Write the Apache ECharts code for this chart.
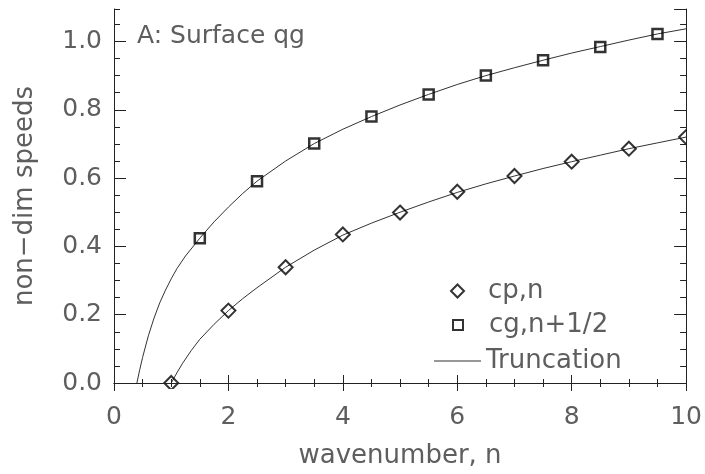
<!DOCTYPE html>
<html>
<head>
<meta charset="utf-8">
<script src="https://cdn.jsdelivr.net/npm/echarts@6/dist/echarts.min.js"></script>
<style>
  html, body { margin: 0; padding: 0; background: #fff; }
  #chart { width: 705px; height: 474px; }
</style>
</head>
<body>
<div id="chart"></div>
<script>
// ---- data ----
const cpN   = [1, 2, 3, 4, 5, 6, 7, 8, 9, 10];
const cpVal = [0.0, 0.212, 0.339, 0.435, 0.499, 0.560, 0.606, 0.648, 0.686, 0.720];

const cgN   = [1.5, 2.5, 3.5, 4.5, 5.5, 6.5, 7.5, 8.5, 9.5];
const cgVal = [0.424, 0.591, 0.701, 0.780, 0.845, 0.900, 0.945, 0.984, 1.022];

const truncUpperN   = [0.4, 0.45, 0.5, 0.6, 0.7, 0.8, 0.9, 1.0, 1.1, 1.25, 1.5, 1.75, 2.0, 2.25, 2.5, 3.0, 3.5, 4.0, 4.5, 5.0, 5.5, 6.0, 6.5, 7.0, 7.5, 8.0, 8.5, 9.0, 9.5, 10.0];
const truncUpperVal = [0.0, 0.039, 0.075, 0.138, 0.19, 0.235, 0.272, 0.305, 0.335, 0.372, 0.424, 0.472, 0.515, 0.555, 0.591, 0.650, 0.701, 0.743, 0.780, 0.814, 0.845, 0.874, 0.900, 0.923, 0.945, 0.966, 0.985, 1.004, 1.022, 1.037];

const truncLowerN   = [1.0, 1.1, 1.2, 1.35, 1.5, 1.75, 2.0, 2.25, 2.5, 3.0, 3.5, 4.0, 4.5, 5.0, 5.5, 6.0, 6.5, 7.0, 7.5, 8.0, 8.5, 9.0, 9.5, 10.0];
const truncLowerVal = [0.0, 0.03, 0.058, 0.095, 0.128, 0.172, 0.212, 0.247, 0.279, 0.339, 0.389, 0.433, 0.468, 0.500, 0.530, 0.558, 0.583, 0.606, 0.628, 0.648, 0.667, 0.686, 0.703, 0.720];

const xTickLabels = ['0', '2', '4', '6', '8', '10'];

const titleText = 'A: Surface qg';
const xName = 'wavenumber, n';
const yName = 'non\u2212dim speeds';
const nameCp = 'cp,n';
const nameCg = 'cg,n+1/2';
const nameTrunc = 'Truncation';

// ---- layout / style ----
const W = 705, H = 474;
const GRID = { left: 114, right: 18, top: 9, bottom: 85 };
const FONT = 'DejaVu Sans';
const TXT = '#5e5e5e';
const LINE = '#222';

const pair = (xs, ys) => xs.map((x, i) => [x, ys[i]]);

const chart = echarts.init(document.getElementById('chart'), null, { renderer: 'canvas' });

const xBase = {
  type: 'value', min: 0, max: 10, interval: 2, z: 10,
  axisLine: { show: true, lineStyle: { color: LINE, width: 1 } },
  axisTick: { show: true, inside: true, length: 8, lineStyle: { color: LINE } },
  minorTick: { show: true, splitNumber: 4, length: 4, lineStyle: { color: LINE } },
  splitLine: { show: false }, minorSplitLine: { show: false }
};
const yMajor = {
  type: 'value', min: 0, max: 1.095, interval: 0.2, z: 10,
  axisLine: { show: true, lineStyle: { color: LINE, width: 1 } },
  axisTick: { show: true, inside: true, length: 12, lineStyle: { color: LINE } },
  splitLine: { show: false }
};
const yMinor = {
  type: 'value', min: 0, max: 1.095, interval: 0.05, z: 10,
  axisLine: { show: false },
  axisTick: { show: true, inside: true, length: 6, lineStyle: { color: LINE } },
  axisLabel: { show: false },
  splitLine: { show: false }
};

const legendText = { fontFamily: FONT, fontSize: 26, color: TXT };

const option = {
  animation: false,
  backgroundColor: '#fff',
  title: {
    text: titleText, left: 132, top: 19,
    textStyle: { fontFamily: FONT, fontSize: 25, fontWeight: 'normal', color: TXT }
  },
  grid: { left: GRID.left, right: GRID.right, top: GRID.top, bottom: GRID.bottom, containLabel: false },
  xAxis: [
    Object.assign({}, xBase, {
      position: 'bottom',
      name: xName, nameLocation: 'middle', nameGap: 60,
      nameTextStyle: { fontFamily: FONT, fontSize: 26, color: TXT },
      axisLabel: {
        show: true, margin: 22, fontFamily: FONT, fontSize: 25, color: TXT,
        formatter: (v) => xTickLabels[Math.round(v / 2)]
      }
    }),
    Object.assign({}, xBase, { position: 'top', axisLabel: { show: false } })
  ],
  yAxis: [
    Object.assign({}, yMajor, {
      position: 'left',
      name: yName, nameLocation: 'middle', nameGap: 76, nameRotate: 90,
      nameTextStyle: { fontFamily: FONT, fontSize: 26, color: TXT },
      axisLabel: {
        show: true, margin: 12, fontFamily: FONT, fontSize: 25, color: TXT,
        showMaxLabel: false,
        formatter: (v) => v.toFixed(1)
      }
    }),
    Object.assign({}, yMinor, { position: 'left' }),
    Object.assign({}, yMajor, { position: 'right', axisLabel: { show: false } }),
    Object.assign({}, yMinor, { position: 'right' })
  ],
  legend: [
    {
      data: [{ name: nameCp, icon: 'diamond' }], orient: 'vertical', left: 445, top: 273, selectedMode: false,
      itemWidth: 13, itemHeight: 13, symbolKeepAspect: true,
      textStyle: Object.assign({ padding: [0, 0, 0, 19] }, legendText)
    },
    {
      data: [{ name: nameCg, icon: 'rect' }], orient: 'vertical', left: 447, top: 307, selectedMode: false,
      itemWidth: 10, itemHeight: 10, symbolKeepAspect: true,
      textStyle: Object.assign({ padding: [0, 0, 0, 21] }, legendText)
    },
    {
      data: [{ name: nameTrunc, icon: 'rect', itemStyle: { color: '#333', borderWidth: 0 } }],
      orient: 'vertical', left: 429, top: 343, selectedMode: false,
      itemWidth: 47, itemHeight: 1,
      textStyle: legendText
    }
  ],
  graphic: [
    { type: 'rect', z: 5, silent: true,
      shape: { x: 0, y: H - GRID.bottom, width: W, height: GRID.bottom },
      style: { fill: '#fff' } },
    { type: 'rect', z: 5, silent: true,
      shape: { x: W - GRID.right, y: 0, width: GRID.right, height: H },
      style: { fill: '#fff' } }
  ],
  series: [
    {
      name: nameTrunc, type: 'line', xAxisIndex: 0, yAxisIndex: 0,
      data: pair(truncUpperN, truncUpperVal),
      symbol: 'none', smooth: false,
      lineStyle: { color: '#333', width: 1 }, itemStyle: { color: '#333' }, z: 2
    },
    {
      name: nameTrunc, type: 'line', xAxisIndex: 0, yAxisIndex: 0,
      data: pair(truncLowerN, truncLowerVal),
      symbol: 'none', smooth: false,
      lineStyle: { color: '#333', width: 1 }, itemStyle: { color: '#333' }, z: 2
    },
    {
      name: nameCp, type: 'scatter', xAxisIndex: 0, yAxisIndex: 0,
      data: pair(cpN, cpVal),
      symbol: 'diamond', symbolSize: 14, clip: false,
      itemStyle: { color: 'rgba(255,255,255,0)', borderColor: '#000', borderWidth: 2 }, z: 3
    },
    {
      name: nameCg, type: 'scatter', xAxisIndex: 0, yAxisIndex: 0,
      data: pair(cgN, cgVal),
      symbol: 'rect', symbolSize: 10, clip: false,
      itemStyle: { color: 'rgba(255,255,255,0)', borderColor: '#000', borderWidth: 2.5 }, z: 3
    }
  ]
};

chart.setOption(option);
</script>
</body>
</html>
